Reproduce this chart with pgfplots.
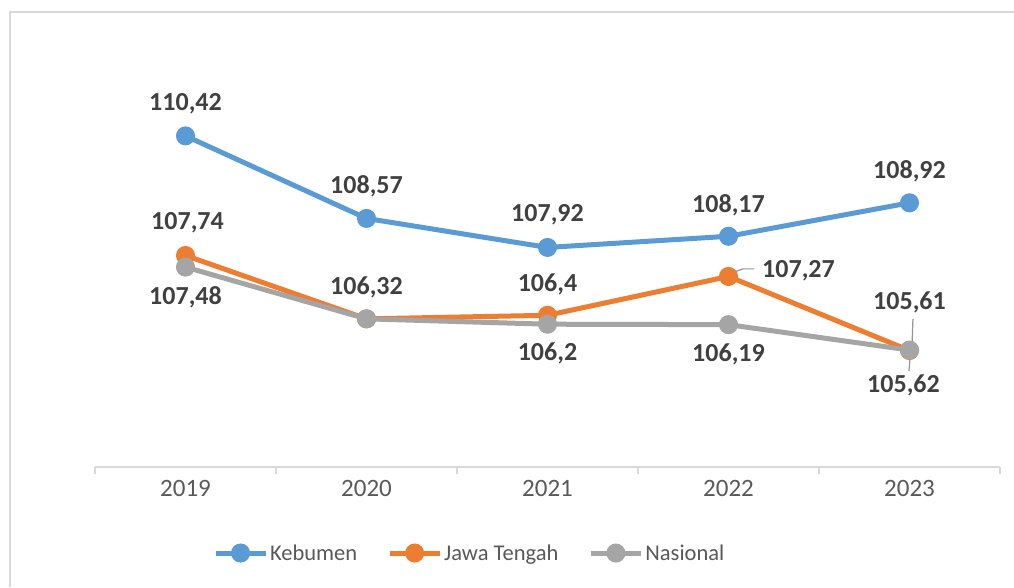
\documentclass[border=0pt]{standalone}
\usepackage{pgfplots}
\usepackage{pgfplotstable}
\pgfplotsset{compat=1.18}
\usepackage{fontspec}
\setmainfont{Carlito}
\definecolor{cKeb}{HTML}{5B9BD5}
\definecolor{cJat}{HTML}{ED7D31}
\definecolor{cNas}{HTML}{A5A5A5}
\definecolor{gridc}{HTML}{D9D9D9}
\definecolor{lblc}{HTML}{404040}
\definecolor{tickc}{HTML}{595959}

\pgfplotstableread{
x y lbl dx dy
0 110.42 {110,42} 0 32
1 108.57 {108,57} 0 32
2 107.92 {107,92} 0 33
3 108.17 {108,17} 0 31
4 108.92 {108,92} 0 32
}\keb
\pgfplotstableread{
x y lbl dx dy
0 107.74 {107,74} 2 33
1 106.32 {106,32} 0 31
2 106.40 {106,4} 0 31
3 107.27 {107,27} 70 6
4 105.61 {105,61} 0 48
}\jat
\pgfplotstableread{
x y lbl dx dy
0 107.48 {107,48} 0 -30
1 106.32 {} 0 -30
2 106.20 {106,2} 0 -29
3 106.19 {106,19} 0 -30
4 105.62 {105,62} -6 -35
}\nas

\begin{document}
\begin{tikzpicture}
\path[use as bounding box] (0pt,0pt) rectangle (1014pt,587pt);
\draw[gridc, line width=1.5pt] (10pt,0pt) -- (10pt,575pt) -- (1014pt,575pt);
\begin{axis}[
  at={(95pt,120pt)}, anchor=south west,
  scale only axis, width=905pt, height=357pt,
  xmin=-0.5, xmax=4.5, ymin=103, ymax=111,
  axis y line=none, axis x line*=bottom,
  x axis line style={gridc, line width=2pt, -},
  ytick={103,104,...,111},
  ymajorgrids, grid style={gridc, line width=1.5pt},
  xtick={0,1,2,3,4},
  xticklabels={2019,2020,2021,2022,2023},
  major tick length=0pt,
  xticklabel style={font=\fontsize{25}{30}\selectfont, text=tickc, yshift=-10pt},
  extra x ticks={-0.5,0.5,1.5,2.5,3.5,4.5},
  extra x tick labels={},
  extra x tick style={major tick length=7pt, tick align=outside, xmajorgrids=false, tick style={gridc, line width=1.5pt}},
  clip=false,
  legend style={at={(0.414,-0.241)}, anchor=center, legend columns=-1, draw=none,
     font=\fontsize{22.5}{26}\selectfont, text=tickc,
     /tikz/every even column/.append style={column sep=28pt}},
  legend image code/.code={\draw[mark repeat=2,mark phase=2,#1] plot coordinates {(0pt,0pt) (25pt,0pt) (50pt,0pt)};},
  lblplot/.style={
    point meta=explicit symbolic,
    visualization depends on={\thisrow{dx} \as \dx},
    visualization depends on={\thisrow{dy} \as \dy},
    nodes near coords,
    every node near coord/.append style={anchor=center, xshift=\dx pt, yshift=\dy pt,
       font=\fontsize{26}{30}\selectfont\bfseries, text=lblc},
  },
]
\addplot[cKeb, line width=5pt, mark=*, mark size=7pt, lblplot] table[x=x,y=y,meta=lbl] {\keb};
\addlegendentry{Kebumen}
\addplot[cJat, line width=5pt, mark=*, mark size=7pt, lblplot] table[x=x,y=y,meta=lbl] {\jat};
\addlegendentry{Jawa Tengah}
\addplot[cNas, line width=5pt, mark=*, mark size=7pt, lblplot] table[x=x,y=y,meta=lbl] {\nas};
\addlegendentry{Nasional}
\draw[cNas!90!black, line width=1.2pt] (axis cs:3.019,107.35) -- (axis cs:3.08,107.44) -- (axis cs:3.141,107.44);
\draw[cNas!90!black, line width=1.2pt] (axis cs:4.019,106.32) -- (axis cs:4.014,105.75);
\draw[cNas!90!black, line width=1.2pt] (axis cs:4.003,105.44) -- (axis cs:3.997,105.15);
\end{axis}
\end{tikzpicture}
\end{document}
